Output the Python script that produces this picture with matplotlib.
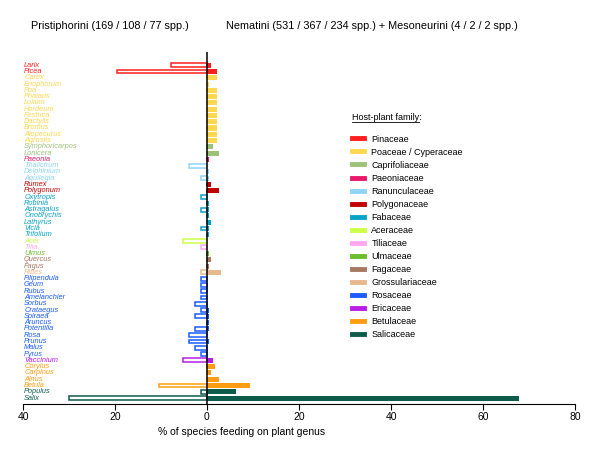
import numpy as np
import matplotlib
matplotlib.use("Agg")
from matplotlib import pyplot as plt
from matplotlib.lines import Line2D
from matplotlib.ticker import FuncFormatter

plt.rcParams["font.family"] = ["Liberation Sans", "DejaVu Sans"]

# host-plant families and their colours (legend order)
families = [
    "Pinaceae", "Poaceae / Cyperaceae", "Caprifoliaceae", "Paeoniaceae",
    "Ranunculaceae", "Polygonaceae", "Fabaceae", "Aceraceae", "Tiliaceae",
    "Ulmaceae", "Fagaceae", "Grossulariaceae", "Rosaceae", "Ericaceae",
    "Betulaceae", "Salicaceae",
]
family_colors = [
    "#ff1f1f", "#ffd84f", "#9cc27a", "#e8196c",
    "#8ed5f5", "#c00000", "#0aa3c8", "#ccff47", "#ffa8f0",
    "#6cbd2b", "#a87862", "#e8b98c", "#1a5cff", "#b91ee8",
    "#ff9d12", "#0d5c4b",
]

genera = [
    "Larix", "Picea", "Carex", "Eriophorum", "Poa", "Phalaris", "Lolium",
    "Hordeum", "Festuca", "Dactylis", "Bromus", "Alopecurus", "Agrostis",
    "Symphoricarpos", "Lonicera", "Paeonia", "Thalictrum", "Delphinium",
    "Aquilegia", "Rumex", "Polygonum", "Oxytropis", "Robinia", "Astragalus",
    "Onobrychis", "Lathyrus", "Vicia", "Trifolium", "Acer", "Tilia", "Ulmus",
    "Quercus", "Fagus", "Ribes", "Filipendula", "Geum", "Rubus",
    "Amelanchier", "Sorbus", "Crataegus", "Spiraea", "Aruncus", "Potentilla",
    "Rosa", "Prunus", "Malus", "Pyrus", "Vaccinium", "Corylus", "Carpinus",
    "Alnus", "Betula", "Populus", "Salix",
]
# index into families for each genus
genus_family = (
    [0] * 2 + [1] * 11 + [2] * 2 + [3] + [4] * 3 + [5] * 2 + [6] * 7
    + [7] + [8] + [9] + [10] * 2 + [11] + [12] * 13 + [13] + [14] * 4 + [15] * 2
)

# % of species feeding on plant genus
pristiphorini = [
    7.8, 19.5, 0, 0, 0, 0, 0, 0, 0, 0, 0, 0, 0,
    0, 0, 0, 3.9, 0, 1.3, 0, 0, 1.3, 0, 1.3, 0, 0, 1.3, 0,
    5.2, 1.3, 0, 0, 0, 1.3, 1.3, 1.3, 1.3, 1.3, 2.6, 1.3, 2.6, 0, 2.6,
    3.9, 3.9, 2.6, 1.3, 5.2, 0, 0, 0, 10.4, 1.3, 29.9,
]
nematini = [
    0.9, 2.1, 2.1, 0.4, 2.1, 2.1, 2.1, 2.1, 2.1, 2.1, 2.1, 2.1, 2.1,
    1.3, 2.6, 0.4, 0, 0.4, 0.4, 0.9, 2.6, 0, 0.4, 0.4, 0.4, 0.9, 0.4, 0.4,
    0, 0, 0.4, 0.9, 0.4, 3.0, 0, 0, 0, 0, 0, 0.4, 0.4, 0.4, 0.4,
    0, 0.4, 0, 0, 1.3, 1.7, 0.9, 2.6, 9.4, 6.4, 67.9,
]

W, H = 600, 455
fig = plt.figure(figsize=(W / 100, H / 100), dpi=100)
ax = fig.add_axes([23 / W, 1 - 404 / H, (575 - 23) / W, (404 - 52) / H])

y = np.arange(len(genera))
colors = [family_colors[f] for f in genus_family]

ax.barh(y, -np.array(pristiphorini), height=0.62, color="white",
        edgecolor=colors, linewidth=1.1)
ax.barh(y, nematini, height=0.8, color=colors, edgecolor="none")
ax.axvline(0, color="black", lw=1.1)

ax.set_xlim(-40, 80)
ax.set_ylim(len(genera) - 0.05, -2.1)
ax.set_xticks([-40, -20, 0, 20, 40, 60, 80])
ax.xaxis.set_major_formatter(FuncFormatter(lambda v, p: f"{abs(v):.0f}"))
ax.tick_params(axis="x", labelsize=7.5, length=4, width=0.8, pad=2)
ax.set_yticks([])
for side in ["top", "right", "left"]:
    ax.spines[side].set_visible(False)
ax.spines["bottom"].set_linewidth(0.8)

for i, name in enumerate(genera):
    ax.text(0.002, i, name, transform=ax.get_yaxis_transform(), ha="left",
            va="center", fontsize=5.3, style="italic", color=colors[i])

fig.text(242 / W, 1 - 432 / H, "% of species feeding on plant genus",
         ha="center", va="center", fontsize=7.5)
fig.text(31 / W, 1 - 26 / H, "Pristiphorini (169 / 108 / 77 spp.)",
         ha="left", va="center", fontsize=7.8)
fig.text(226 / W, 1 - 26 / H,
         "Nematini (531 / 367 / 234 spp.) + Mesoneurini (4 / 2 / 2 spp.)",
         ha="left", va="center", fontsize=7.8)

# legend
fig.text(352 / W, 1 - 117 / H, "Host-plant family:", ha="left",
         va="center", fontsize=6.5)
fig.add_artist(Line2D([352 / W, 419 / W], [1 - 122 / H, 1 - 122 / H],
                      color="black", lw=0.6))
handles = [Line2D([], [], color=c, lw=3.5) for c in family_colors]
fig.legend(handles, families, loc="upper left",
           bbox_to_anchor=(347 / W, 1 - 130 / H), frameon=False,
           fontsize=6.5, handlelength=1.4, handletextpad=0.8,
           labelspacing=0.45, borderpad=0)

fig.savefig("out.png", dpi=100)
